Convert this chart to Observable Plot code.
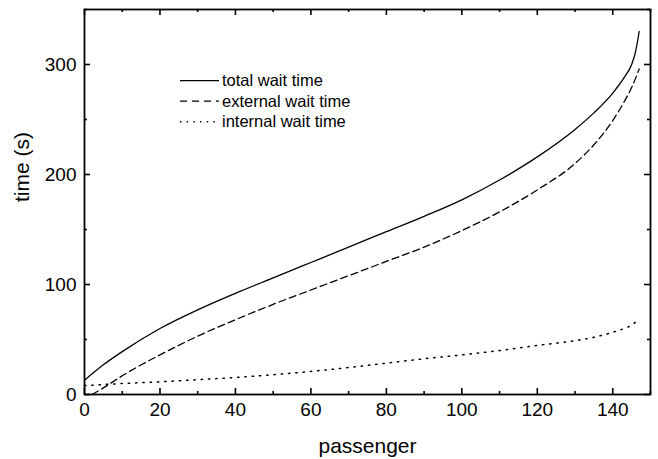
<!DOCTYPE html>
<html>
<head>
<meta charset="utf-8">
<script src="https://cdn.jsdelivr.net/npm/d3@7"></script>
<script src="https://cdn.jsdelivr.net/npm/@observablehq/plot@0.6"></script>
<style>
  html, body { margin: 0; padding: 0; background: #fff; }
  svg { display: block; }
</style>
</head>
<body>
<div id="chart"></div>
<script>
// ---- data ----
const totalPassenger = [0, 5, 10, 20, 30, 40, 50, 60, 70, 80, 90, 100, 110, 120, 130, 135, 140, 143, 145, 146, 147];
const totalWait      = [13, 27, 39, 60, 77, 92, 106, 120, 134, 148, 162, 177, 195, 216, 241, 256, 274, 288, 300, 311, 330];

const externalPassenger = [2, 5, 10, 20, 30, 40, 50, 60, 70, 80, 90, 100, 110, 120, 130, 135, 140, 143, 145, 147];
const externalWait      = [0, 6, 17, 36, 53, 68, 82, 95, 108, 121, 134, 149, 166, 186, 210, 227, 249, 266, 279, 296];

const internalPassenger = [0, 10, 20, 30, 40, 50, 60, 70, 80, 90, 100, 110, 120, 130, 135, 140, 143, 145, 147];
const internalWait      = [8, 10, 11.5, 13.5, 15.5, 18, 21, 24.5, 28.5, 32.5, 36, 40, 44.6, 49, 52, 56.6, 60, 63, 69];

const seriesNames = ["total wait time", "external wait time", "internal wait time"];
const xMajorTicks = [0, 20, 40, 60, 80, 100, 120, 140];
const xMinorTicks = [10, 30, 50, 70, 90, 110, 130, 150];
const yMajorTicks = [0, 100, 200, 300];
const yMinorTicks = [50, 150, 250, 350];
const xLabel = "passenger";
const yLabel = "time (s)";

const toRows = (xs, ys) => xs.map((x, i) => ({x, y: ys[i]}));
const total = toRows(totalPassenger, totalWait);
const external = toRows(externalPassenger, externalWait);
const internal = toRows(internalPassenger, internalWait);

const W = 658, H = 459, mL = 84, mR = 8, mT = 9, mB = 65;
const innerW = W - mL - mR, innerH = H - mT - mB;
const id = d => d;
const majorLen = 6, minorLen = 3;
const tk = {stroke: "#000", strokeWidth: 1.6};

const chart = Plot.plot({
  width: W,
  height: H,
  marginLeft: mL,
  marginRight: mR,
  marginTop: mT,
  marginBottom: mB,
  style: {fontFamily: "'Liberation Sans', Arial, sans-serif", fontSize: "19px", color: "#000", background: "#fff"},
  x: {domain: [0, 150], label: null},
  y: {domain: [0, 350], label: null},
  marks: [
    Plot.line(total, {x: "x", y: "y", curve: "monotone-x", stroke: "#000", strokeWidth: 1.3}),
    Plot.line(external, {x: "x", y: "y", curve: "monotone-x", stroke: "#000", strokeWidth: 1.3, strokeDasharray: "7,4"}),
    Plot.line(internal, {x: "x", y: "y", curve: "monotone-x", stroke: "#000", strokeWidth: 1.5, strokeDasharray: "1.4,5.9"}),
    // tick labels (no tick lines)
    Plot.axisX({ticks: xMajorTicks, tickSize: 0, tickPadding: 8, label: null, fontSize: 19}),
    Plot.axisY({ticks: yMajorTicks, tickSize: 0, tickPadding: 8, label: null, fontSize: 19}),
    Plot.frame({stroke: "#000", strokeWidth: 1.8}),
    // inward ticks, bottom & top
    Plot.tickX(xMajorTicks, {x: id, ...tk, insetTop: innerH - majorLen}),
    Plot.tickX(xMinorTicks, {x: id, ...tk, insetTop: innerH - minorLen}),
    Plot.tickX(xMajorTicks, {x: id, ...tk, insetBottom: innerH - majorLen}),
    Plot.tickX(xMinorTicks, {x: id, ...tk, insetBottom: innerH - minorLen}),
    // inward ticks, left & right
    Plot.tickY(yMajorTicks, {y: id, ...tk, insetRight: innerW - majorLen}),
    Plot.tickY(yMinorTicks, {y: id, ...tk, insetRight: innerW - minorLen}),
    Plot.tickY(yMajorTicks, {y: id, ...tk, insetLeft: innerW - majorLen}),
    Plot.tickY(yMinorTicks, {y: id, ...tk, insetLeft: innerW - minorLen}),
    Plot.text([xLabel], {frameAnchor: "bottom", dy: 52, text: d => d, fontSize: 21, lineAnchor: "middle"}),
    Plot.text([yLabel], {frameAnchor: "left", dx: -62, text: d => d, fontSize: 21, rotate: -90, lineAnchor: "middle"})
  ]
});

// legend inside the plot area
const svg = d3.select(chart);
const legend = svg.append("g")
  .attr("font-family", "'Liberation Sans', Arial, sans-serif")
  .attr("font-size", 16.5)
  .attr("text-anchor", "start");
seriesNames.forEach((name, i) => {
  const y = 80.7 + i * 20.5;
  legend.append("line")
    .attr("x1", 180).attr("x2", 219).attr("y1", y).attr("y2", y)
    .attr("stroke", "#000").attr("stroke-width", i === 2 ? 1.4 : 1.3)
    .attr("stroke-dasharray", i === 0 ? null : (i === 1 ? "7,5" : "1.4,5.3"));
  legend.append("text")
    .attr("x", 222).attr("y", y).attr("dy", "0.35em")
    .attr("fill", "#000")
    .attr("text-anchor", "start")
    .text(name);
});

document.getElementById("chart").appendChild(chart);
</script>
</body>
</html>
